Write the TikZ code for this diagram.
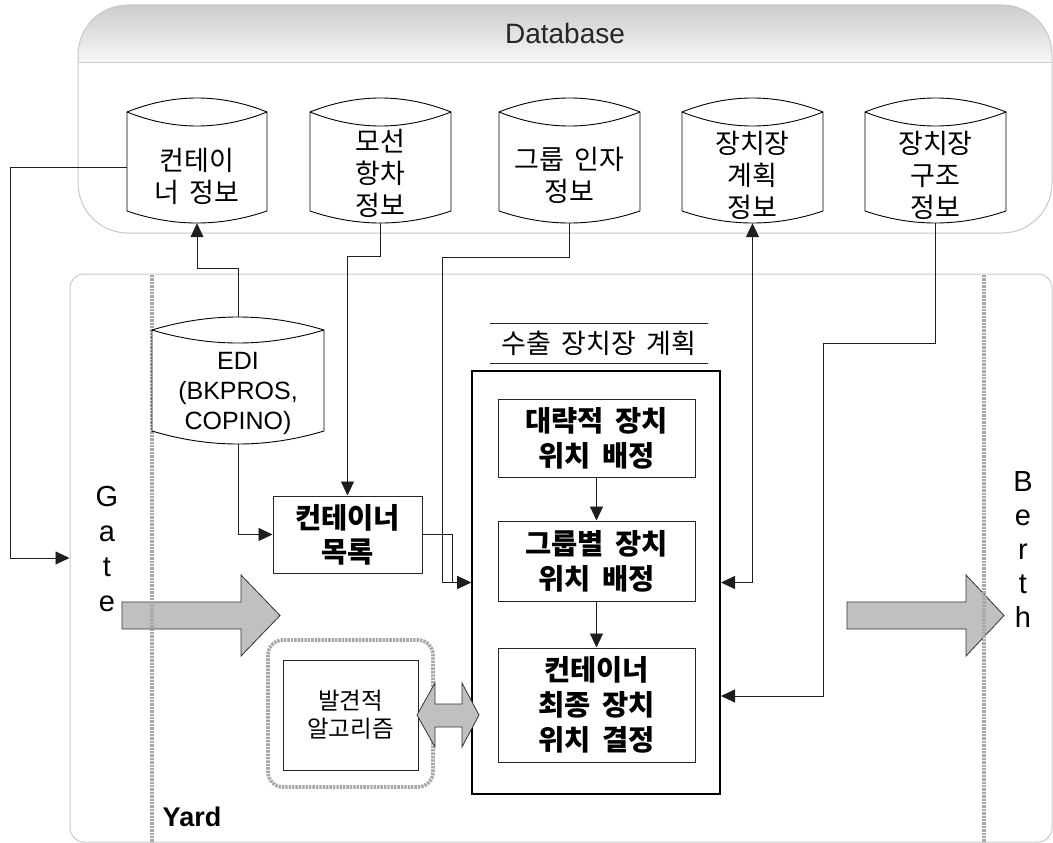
\documentclass[tikz,border=0pt]{standalone}
\usepackage{fontspec}
\setmainfont{Liberation Sans}
\newfontfamily\kr[WordSpace=1.7]{Noto Sans CJK KR}
\usetikzlibrary{arrows.meta,calc}

\definecolor{panelline}{HTML}{C8C8C8}
\definecolor{headtop}{HTML}{CCCCCC}
\definecolor{headbot}{HTML}{F8F8F8}
\definecolor{dotgray}{HTML}{A8A8A8}
\definecolor{blockfill}{HTML}{C0C0C0}
\definecolor{wire}{HTML}{1E1E1E}

% drum outline: left x, right x, top y, bottom y, top bulge, bottom bulge
\newcommand\dbdrum[6]{%
  \pgfmathsetmacro\drumxa{#1+(#2-#1)/3}%
  \pgfmathsetmacro\drumxb{#2-(#2-#1)/3}%
  \pgfmathsetmacro\drumyu{#3-4*#5/3}%
  \pgfmathsetmacro\drumyd{#3+4*#5/3}%
  \pgfmathsetmacro\drumyb{#4+4*#6/3}%
  \draw[drumline,fill=white] (#1,#3) .. controls (\drumxa,\drumyu) and (\drumxb,\drumyu) .. (#2,#3)
     -- (#2,#4) .. controls (\drumxb,\drumyb) and (\drumxa,\drumyb) .. (#1,#4) -- cycle;
  \draw[drumline] (#1,#3) .. controls (\drumxa,\drumyd) and (\drumxb,\drumyd) .. (#2,#3);
}

\begin{document}
\begin{tikzpicture}[x=1pt,y=-1pt,
  conn/.style={draw=wire, line width=0.9pt},
  tip/.style={-{Triangle[length=14pt,width=13pt]}},
  twotips/.style={{Triangle[length=14pt,width=13pt]}-{Triangle[length=14pt,width=13pt]}},
  drumline/.style={draw=black, line width=0.9pt},
  drumbody/.style={draw=none, inner sep=0pt, minimum height=111pt},
  krtext/.style={font=\kr\fontsize{27}{32}\selectfont, align=center, inner sep=0pt},
  krsmall/.style={font=\kr\fontsize{23.5}{28}\selectfont, align=center, inner sep=0pt},
  krbold/.style={font=\kr\bfseries\fontsize{28.5}{35}\selectfont, align=center, inner sep=0pt},
  latin/.style={font=\fontsize{25}{30}\selectfont, align=center, inner sep=0pt},
  stepbox/.style={draw=black!85, line width=1pt, inner sep=0pt, align=center},
  blockarrow/.style={fill=blockfill, draw=black!80, line width=0.8pt},
  dotrule/.style={draw=dotgray, line width=3.6pt, dash pattern=on 2.4pt off 1pt},
]
\useasboundingbox (0,0) rectangle (1053,843);

% ---------------- database panel ----------------
\begin{scope}
  \clip[rounded corners=50pt] (78,5) rectangle (1052,233);
  \fill[white] (78,5) rectangle (1052,233);
  \shade[top color=headtop, bottom color=headbot] (78,5) rectangle (1052,63);
\end{scope}
\draw[panelline, line width=1pt] (78,63) -- (1052,63);
\draw[panelline, line width=1pt, rounded corners=50pt] (78,5) rectangle (1052,233);
\node[font=\fontsize{28}{32}\selectfont, text=black!85] (dbtitle) at (565,33) {Database};

% ---------------- yard panel ----------------
\node[draw=panelline, line width=1pt, rounded corners=14pt, minimum width=982pt,
      minimum height=568pt, inner sep=0pt] (yard) at (561,558) {};
\node[font=\bfseries\fontsize{27}{30}\selectfont, inner sep=0pt] (yardlabel) at (192,817) {Yard};

% gate / berth flow arrows
\fill[blockarrow] (122,602) -- (241,602) -- (241,575) -- (280,615.5) -- (241,656)
   -- (241,629) -- (122,629) -- cycle;
\fill[blockarrow] (847,602) -- (966,602) -- (966,575) -- (1004,615.5) -- (966,656)
   -- (966,629) -- (847,629) -- cycle;

% zone boundaries
\draw[dotrule] (152,275) -- (152,842);
\draw[dotrule] (984,275) -- (984,842);

\node[font=\fontsize{29}{35}\selectfont, align=center, inner sep=0pt] (gate) at (107,549) {G\\a\\t\\e};
\node[font=\fontsize{29}{34}\selectfont, align=center, inner sep=0pt] (berth) at (1023,550) {B\\e\\r\\t\\h};

% ---------------- database drums ----------------
\dbdrum{127}{267}{112}{211}{14}{12}
\dbdrum{310}{451}{112}{211}{14}{12}
\dbdrum{499}{640}{112}{211}{14}{12}
\dbdrum{682}{823}{112}{211}{14}{12}
\dbdrum{865}{1006}{112}{211}{14}{12}
\node[drumbody, minimum width=140pt] (c1) at (197,167.5) {};
\node[drumbody, minimum width=141pt] (c2) at (380.5,167.5) {};
\node[drumbody, minimum width=141pt] (c3) at (569.5,167.5) {};
\node[drumbody, minimum width=141pt] (c4) at (752.5,167.5) {};
\node[drumbody, minimum width=141pt] (c5) at (935.5,167.5) {};
\node[krtext] (c1t) at (197,176) {컨테이\\너 정보};
\node[krtext] (c2t) at (380.5,173) {모선\\항차\\정보};
\node[krtext] (c3t) at (569.5,175) {그룹 인자\\정보};
\node[krtext] (c4t) at (752.5,175) {장치장\\계획\\정보};
\node[krtext] (c5t) at (935.5,175) {장치장\\구조\\정보};

% ---------------- EDI drum ----------------
\dbdrum{152}{324}{330}{431}{13}{13}
\node[drumbody, minimum width=172pt, minimum height=127pt] (edi) at (238,380.5) {};
\node[latin] (edit) at (238,393) {EDI\\(BKPROS,\\COPINO)};

% ---------------- container list ----------------
\node[stepbox, minimum width=149pt, minimum height=77pt, font=\kr\bfseries\fontsize{28.5}{34}\selectfont]
  (list) at (347.5,534.5) {컨테이너\\목록};

% ---------------- export yard planning ----------------
\node[krtext] (plantitle) at (599,343) {수출 장치장 계획};
\draw[black!85, line width=1pt] (490,323) -- (708,323);
\draw[black!85, line width=1pt] (490,363) -- (708,363);
\node[draw=black, line width=2pt, minimum width=248pt, minimum height=423pt, inner sep=0pt]
  (plan) at (596,582.5) {};
\node[stepbox, krbold, minimum width=197pt, minimum height=78pt] (b1) at (596.5,438) {대략적 장치\\위치 배정};
\node[stepbox, krbold, minimum width=197pt, minimum height=80pt] (b2) at (596.5,561) {그룹별 장치\\위치 배정};
\node[stepbox, krbold, minimum width=197pt, minimum height=114pt] (b3) at (596.5,705) {컨테이너\\최종 장치\\위치 결정};
\draw[conn, tip] (b1.south) -- (b2.north);
\draw[conn, tip] (b2.south) -- (b3.north);

% ---------------- heuristic ----------------
\draw[dotrule, rounded corners=15pt] (268,640) rectangle (433,787);
\node[stepbox, krsmall, minimum width=135pt, minimum height=110pt] (heur) at (350.5,715) {발견적\\알고리즘};
\fill[blockarrow] (417,715) -- (435,683) -- (435,704) -- (462,704) -- (462,683) -- (479,715)
   -- (462,747) -- (462,727) -- (435,727) -- (435,747) -- cycle;

% ---------------- connectors ----------------
\draw[conn, tip] (c1.west) -- ++(-116,0) |- (yard.west);
\draw[conn, tip] (edi.north) -- ++(0,-48) -| (c1.south);
\draw[conn, tip] (edi.south) |- (list.west);
\draw[conn, tip] (c2.south) -- ++(0,33) -| (list.north);
\draw[conn, tip] (c3.south) -- ++(0,34) -| ([xshift=-29pt]plan.west) -- (plan.west);
\draw[conn, tip] (list.east) -| ([xshift=-19pt]plan.west) -- (plan.west);
\draw[conn, twotips] (c4.south) |- (plan.east);
\coordinate (r5) at (823,696);
\draw[conn, tip] (c5.south) -- ++(0,120) -| (r5) -- (r5 -| plan.east);

\end{tikzpicture}
\end{document}
